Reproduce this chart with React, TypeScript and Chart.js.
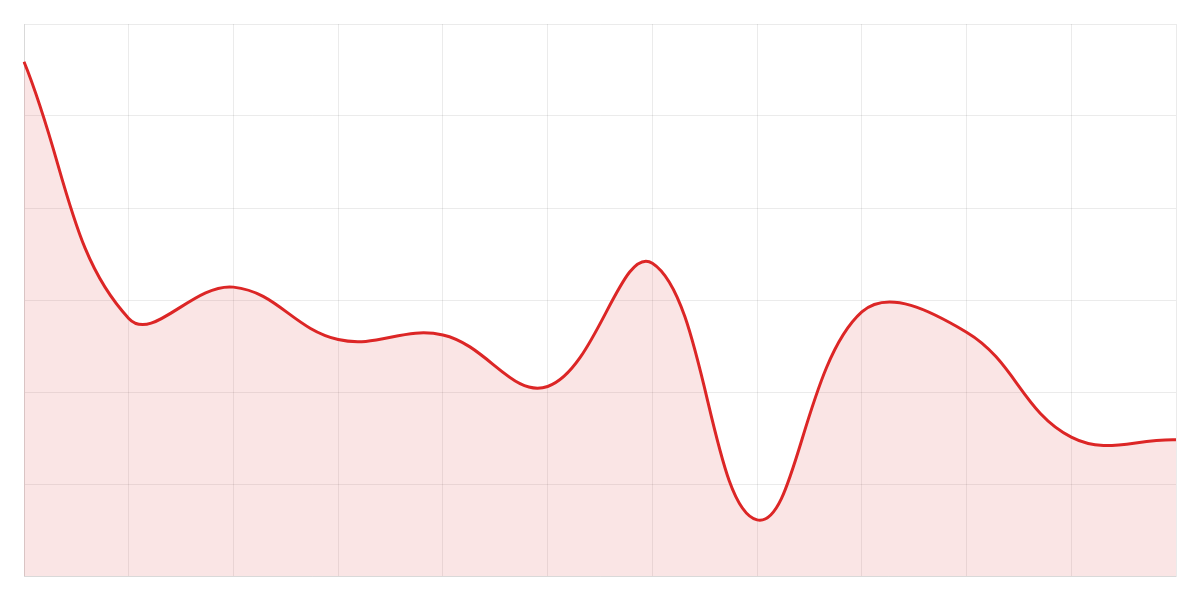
import { useEffect, useRef } from "react";
import { Chart, registerables, type ChartConfiguration } from "chart.js";

Chart.register(...registerables);

const labels = ["1", "2", "3", "4", "5", "6", "7", "8", "9", "10", "11", "12"];
const values = [55.9, 28.0, 31.4, 25.7, 26.2, 20.6, 34.0, 6.1, 28.7, 26.5, 15.1, 14.8];

const yMin = 0;
const yMax = 60;
const yStep = 10;

export default function App() {
  const canvasRef = useRef<HTMLCanvasElement | null>(null);
  const chartRef = useRef<Chart | null>(null);

  useEffect(() => {
    const canvas = canvasRef.current;
    if (!canvas) return;

    if (chartRef.current) {
      chartRef.current.destroy();
      chartRef.current = null;
    }

    const gridColor = "rgba(0, 0, 0, 0.08)";

    const config: ChartConfiguration<"line"> = {
      type: "line",
      data: {
        labels,
        datasets: [
          {
            label: "Series",
            data: values,
            borderColor: "#DC2626",
            backgroundColor: "rgba(210, 40, 40, 0.12)",
            borderWidth: 3,
            tension: 0.4,
            pointRadius: 0,
            fill: true,
          },
        ],
      },
      options: {
        animation: false,
        responsive: true,
        maintainAspectRatio: false,
        plugins: {
          legend: { display: false },
          tooltip: { enabled: false },
        },
        layout: { padding: 24 },
        scales: {
          x: {
            offset: false,
            grid: { color: gridColor, drawTicks: false },
            border: { display: true, color: gridColor },
            ticks: { display: false },
          },
          y: {
            min: yMin,
            max: yMax,
            grid: { color: gridColor, drawTicks: false },
            border: { display: true, color: gridColor },
            ticks: { display: false, stepSize: yStep },
          },
        },
      },
    };

    chartRef.current = new Chart(canvas, config);

    return () => {
      if (chartRef.current) {
        chartRef.current.destroy();
        chartRef.current = null;
      }
    };
  }, []);

  return (
    <div
      style={{
        position: "fixed",
        top: 0,
        left: 0,
        width: 1200,
        height: 600,
        background: "#fff",
      }}
    >
      <canvas ref={canvasRef} aria-label="Line chart" />
    </div>
  );
}
